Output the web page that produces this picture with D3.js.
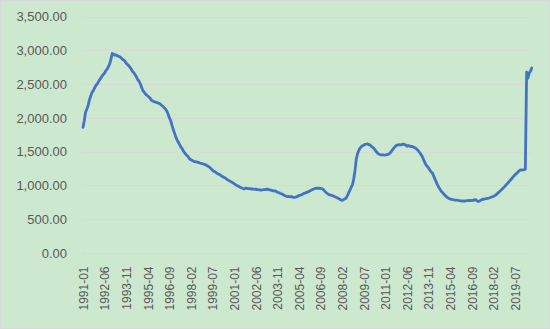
<!DOCTYPE html>
<html>
<head>
<meta charset="utf-8">
<script src="https://cdn.jsdelivr.net/npm/d3@7/dist/d3.min.js"></script>
<style>
  html, body { margin: 0; padding: 0; background: #cce8cf; }
  svg { display: block; }
</style>
</head>
<body>
<svg id="chart" width="550" height="329"></svg>
<script>
// Monthly series, 1991-01 .. 2020-08 (2000-12 and 2010-12 absent from the source)
const startYear = 1991, startMonth = 1, endYear = 2020, endMonth = 8;
const missingMonths = ["2000-12", "2010-12"];

const values = [
  1860, 1960, 2085, 2130, 2180, 2265, 2320, 2375, 2400, 2440, 2475, 2500,
  2530, 2565, 2590, 2620, 2645, 2665, 2700, 2725, 2760, 2800, 2870, 2955,
  2945, 2930, 2935, 2920, 2915, 2905, 2890, 2870, 2860, 2840, 2810, 2790,
  2775, 2750, 2720, 2690, 2670, 2640, 2610, 2570, 2545, 2510, 2460, 2410,
  2385, 2360, 2340, 2325, 2305, 2290, 2260, 2250, 2240, 2235, 2230, 2220,
  2215, 2200, 2185, 2170, 2150, 2130, 2100, 2055, 2000, 1960, 1890, 1830,
  1775, 1720, 1675, 1640, 1605, 1570, 1545, 1510, 1480, 1460, 1440, 1420,
  1390, 1380, 1370, 1360, 1352, 1350, 1345, 1340, 1332, 1328, 1322, 1315,
  1310, 1300, 1290, 1278, 1262, 1245, 1225, 1210, 1200, 1185, 1175, 1165,
  1155, 1140, 1130, 1118, 1110, 1095, 1082, 1072, 1060, 1050, 1038, 1025,
  1012, 1000, 992, 980, 972, 962, 955, 950, 962, 958, 952, 955,
  948, 950, 945, 942, 946, 938, 940, 935, 930, 934, 940, 938,
  942, 945, 940, 935, 930, 925, 918, 922, 912, 900, 895, 885,
  878, 870, 858, 848, 840, 836, 838, 832, 835, 828, 824, 826,
  830, 842, 850, 858, 862, 875, 884, 890, 898, 905, 915, 925,
  935, 945, 952, 958, 960, 958, 962, 958, 955, 940, 920, 900,
  885, 870, 860, 856, 850, 845, 835, 825, 818, 808, 795, 785,
  780, 790, 802, 815, 850, 890, 930, 975, 1010, 1100, 1220, 1390,
  1470, 1520, 1555, 1575, 1590, 1600, 1610, 1612, 1615, 1605, 1598, 1575,
  1565, 1545, 1520, 1495, 1475, 1462, 1455, 1452, 1455, 1450, 1452, 1456,
  1460, 1470, 1490, 1515, 1540, 1565, 1585, 1598, 1602, 1605, 1600, 1608,
  1612, 1605, 1598, 1580, 1592, 1585, 1575, 1580, 1568, 1560, 1548, 1530,
  1510, 1485, 1455, 1425, 1380, 1340, 1300, 1280, 1255, 1225, 1200, 1180,
  1135, 1090, 1045, 1005, 970, 940, 910, 893, 870, 850, 832, 818,
  808, 798, 795, 790, 786, 784, 782, 780, 775, 772, 770, 768,
  770, 772, 775, 776, 778, 775, 782, 780, 786, 790, 772, 762,
  770, 785, 790, 798, 800, 805, 808, 812, 818, 825, 832, 840,
  850, 862, 880, 898, 915, 932, 950, 970, 990, 1010, 1032, 1052,
  1075, 1095, 1120, 1140, 1160, 1175, 1195, 1215, 1230, 1228, 1232, 1235,
  1240, 2680, 2590, 2665, 2690, 2740
];

const yTicks = [0, 500, 1000, 1500, 2000, 2500, 3000, 3500];
const xTickLabels = [
  "1991-01", "1992-06", "1993-11", "1995-04", "1996-09", "1998-02", "1999-07",
  "2001-01", "2002-06", "2003-11", "2005-04", "2006-09", "2008-02", "2009-07",
  "2011-01", "2012-06", "2013-11", "2015-04", "2016-09", "2018-02", "2019-07"
];

// Month labels for the category axis
const categories = [];
for (let y = startYear; y <= endYear; y++) {
  for (let m = 1; m <= 12; m++) {
    if (y === startYear && m < startMonth) continue;
    if (y === endYear && m > endMonth) break;
    const lab = y + "-" + String(m).padStart(2, "0");
    if (missingMonths.includes(lab)) continue;
    categories.push(lab);
  }
}
const data = categories.map((c, i) => ({ cat: c, v: values[i] }));

const svg = d3.select("#chart");
const W = 550, H = 329;

svg.append("rect").attr("x", 0.5).attr("y", 0.5).attr("width", W - 1).attr("height", H - 1)
  .attr("fill", "#cce8cf").attr("stroke", "#d9d9d9").attr("stroke-width", 1);

const x = d3.scalePoint().domain(categories).range([83, 531.7]);
const y = d3.scaleLinear().domain([0, 3500]).range([253, 16.7]);

const textColor = "#595959";
const fontFamily = "'Liberation Sans', Arial, sans-serif";

// Horizontal gridlines
svg.append("g")
  .selectAll("line")
  .data(yTicks.filter(t => t > 0))
  .join("line")
  .attr("x1", x.range()[0]).attr("x2", x.range()[1])
  .attr("y1", d => Math.round(y(d)) + 0.5).attr("y2", d => Math.round(y(d)) + 0.5)
  .attr("stroke", "#d9d9d9").attr("stroke-width", 1);

// Value axis labels
const yAxis = d3.axisLeft(y).tickValues(yTicks).tickSize(0).tickPadding(0)
  .tickFormat(d3.format(",.2f"));
const gy = svg.append("g").attr("transform", "translate(67,0)").call(yAxis);
gy.select(".domain").remove();
gy.selectAll("text").attr("fill", textColor).attr("font-size", 13)
  .attr("font-family", fontFamily);

// Category axis
const xAxis = d3.axisBottom(x)
  .tickValues(xTickLabels.filter(l => categories.includes(l)))
  .tickSize(4).tickPadding(4);
const gx = svg.append("g").attr("transform", `translate(0,${Math.round(y(0)) + 0.5})`).call(xAxis);
gx.select(".domain").attr("stroke", "#d9d9d9").attr("d", `M${x.range()[0]},0H${x.range()[1]}`);
gx.selectAll(".tick line").attr("stroke", "#d9d9d9");
gx.selectAll("text")
  .attr("fill", textColor).attr("font-size", 12).attr("font-family", fontFamily)
  .attr("transform", "rotate(-90)")
  .attr("text-anchor", "end")
  .attr("x", -13).attr("y", 0).attr("dy", "0.35em");

// Series line
const line = d3.line().x(d => x(d.cat)).y(d => y(d.v));
svg.append("path")
  .datum(data)
  .attr("d", line)
  .attr("fill", "none")
  .attr("stroke", "#4472c4")
  .attr("stroke-width", 2.8)
  .attr("stroke-linejoin", "round")
  .attr("stroke-linecap", "round");
</script>
</body>
</html>
